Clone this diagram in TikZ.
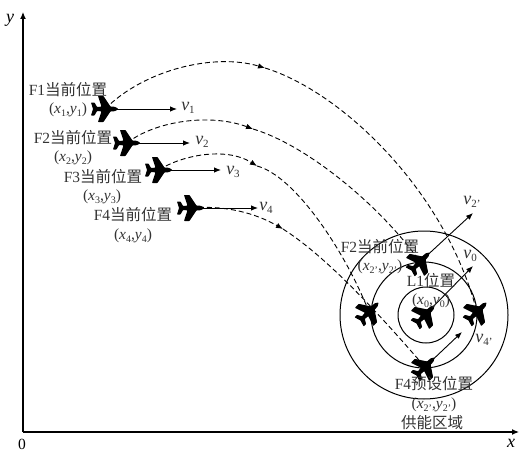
\documentclass[tikz,border=0pt]{standalone}
\usepackage{fontspec}
\setmainfont{Liberation Serif}
\newfontfamily\cjk{Noto Sans CJK SC}
\usetikzlibrary{arrows.meta}
\newcommand{\cn}[1]{{\cjk\fontsize{15.5}{18}\selectfont #1}}
\newcommand{\spd}[1]{{\fontsize{18}{18}\selectfont\textit{v}}\raisebox{-3pt}{\fontsize{11}{11}\selectfont #1}}
\newcommand{\pos}[2]{(\textit{x}\raisebox{-3pt}{\fontsize{10}{10}\selectfont #1},\textit{y}\raisebox{-3pt}{\fontsize{10}{10}\selectfont #2})}
\tikzset{
  lab/.style={
    inner sep=0pt,
    align=center,
    text=black!80,
    font=\fontsize{15.5}{18}\selectfont
  },
  axislab/.style={lab, text=black, font=\fontsize{18}{18}\selectfont\itshape},
  axis/.style={-{Latex[length=7pt,width=6pt]}, line width=1.2pt},
  arrow/.style={-{Latex[length=7pt,width=5.5pt]}, line width=0.9pt},
  route/.style={line width=0.9pt, dash pattern=on 5pt off 3pt},
  routetip/.style={route, -{Latex[length=7pt,width=5.5pt]}},
  ring/.style={draw, circle, line width=1pt, inner sep=0pt},
  plane/.pic={
    \fill[black, rounded corners=0.6pt] (13.5,0) -- (10,2.2) -- (5.5,2.4) -- (-1.5,13) -- (-7,13)
      -- (-3.5,2.4) -- (-8,2) -- (-10.5,6.5) -- (-14,6.5) -- (-12,0) -- (-14,-6.5) -- (-10.5,-6.5)
      -- (-8,-2) -- (-3.5,-2.4) -- (-7,-13) -- (-1.5,-13) -- (5.5,-2.4) -- (10,-2.2) -- cycle;
  }
}
\begin{document}
\begin{tikzpicture}[x=1pt,y=1pt]
  \useasboundingbox (0,0) rectangle (519,451);

  \coordinate (origin) at (23,19);
  \coordinate (yend) at (23,439);
  \coordinate (xend) at (519,19);
  \coordinate (f1) at (105,342);
  \coordinate (f2) at (127,308);
  \coordinate (f3) at (159,281);
  \coordinate (f4) at (191,243);
  \coordinate (top) at (420,189);
  \coordinate (left) at (369,139);
  \coordinate (lead) at (425,136);
  \coordinate (right) at (477,139);
  \coordinate (bottom) at (425,84);
  \coordinate (mid1) at (265,383);
  \coordinate (mid2) at (253,322);
  \coordinate (mid3) at (257,285);
  \coordinate (mid4) at (283,222);
  \coordinate (tip1) at (177,342);
  \coordinate (tip2) at (190,308);
  \coordinate (tip3) at (221,281);
  \coordinate (tip4) at (258,243);
  \coordinate (tiptop) at (473,238);
  \coordinate (tiplead) at (473,185);
  \coordinate (tipbottom) at (462,119);

  \node[ring, minimum size=168pt] (outer) at (424,136) {};
  \node[ring, minimum size=106pt] (middle) at (424,136) {};
  \node[ring, minimum size=56pt] (inner) at (426,136) {};

  \draw[axis] (origin) -- (yend);
  \draw[axis] (origin) -- (xend);
  \node[axislab] (ylab) at (10,431) {y};
  \node[axislab] (xlab) at (511,8) {x};
  \node[lab, text=black] (zero) at (22,7) {0};

  \draw[routetip] (f1) .. controls (145,382) and (215,398) .. (mid1);
  \draw[route] (mid1) .. controls (340,360) and (445,262) .. (right);
  \draw[routetip] (f2) .. controls (155,330) and (210,338) .. (mid2);
  \draw[route] (mid2) .. controls (310,305) and (385,240) .. (top);
  \draw[routetip] (f3) .. controls (180,295) and (225,305) .. (mid3);
  \draw[route] (mid3) .. controls (295,275) and (345,200) .. (left);
  \draw[routetip] (f4) .. controls (225,246) and (255,238) .. (mid4);
  \draw[route] (mid4) .. controls (330,192) and (385,130) .. (bottom);

  \draw[arrow] (f1) -- (tip1);
  \draw[arrow] (f2) -- (tip2);
  \draw[arrow] (f3) -- (tip3);
  \draw[arrow] (f4) -- (tip4);
  \draw[arrow] (top) -- (tiptop);
  \draw[arrow] (lead) -- (tiplead);
  \draw[arrow] (bottom) -- (tipbottom);

  \pic at (f1) {plane};
  \pic at (f2) {plane};
  \pic at (f3) {plane};
  \pic at (f4) {plane};
  \pic[rotate=45] at (top) {plane};
  \pic[rotate=45] at (left) {plane};
  \pic[rotate=45] at (lead) {plane};
  \pic[rotate=45] at (right) {plane};
  \pic[rotate=45] at (bottom) {plane};

  \node[lab] (f1name) at (68,361) {F1\cn{当前位置}};
  \node[lab] (f1pos) at (68,341) {\pos{1}{1}};
  \node[lab] (f2name) at (73,313) {F2\cn{当前位置}};
  \node[lab] (f2pos) at (73,293) {\pos{2}{2}};
  \node[lab] (f3name) at (103,274) {F3\cn{当前位置}};
  \node[lab] (f3pos) at (102,254) {\pos{3}{3}};
  \node[lab] (f4name) at (133,236) {F4\cn{当前位置}};
  \node[lab] (f4pos) at (133,215) {\pos{4}{4}};
  \node[lab] (v1) at (188,343) {\spd{1}};
  \node[lab] (v2) at (202,309) {\spd{2}};
  \node[lab] (v3) at (233,279) {\spd{3}};
  \node[lab] (v4) at (266,243) {\spd{4}};
  \node[lab] (vtop) at (472,249) {\spd{2'}};
  \node[lab] (vlead) at (470,195) {\spd{0}};
  \node[lab] (vbottom) at (484,111) {\spd{4'}};
  \node[lab] (topname) at (380,204) {F2\cn{当前位置}};
  \node[lab] (toppos) at (380,184) {\pos{2'}{2'}};
  \node[lab] (leadname) at (431,170) {L1\cn{位置}};
  \node[lab] (leadpos) at (431,150) {\pos{0}{0}};
  \node[lab] (bottomname) at (434,67) {F4\cn{预设位置}};
  \node[lab] (bottompos) at (434,46) {\pos{2'}{2'}};
  \node[lab] (zone) at (432,28) {\cn{供能区域}};
\end{tikzpicture}
\end{document}
